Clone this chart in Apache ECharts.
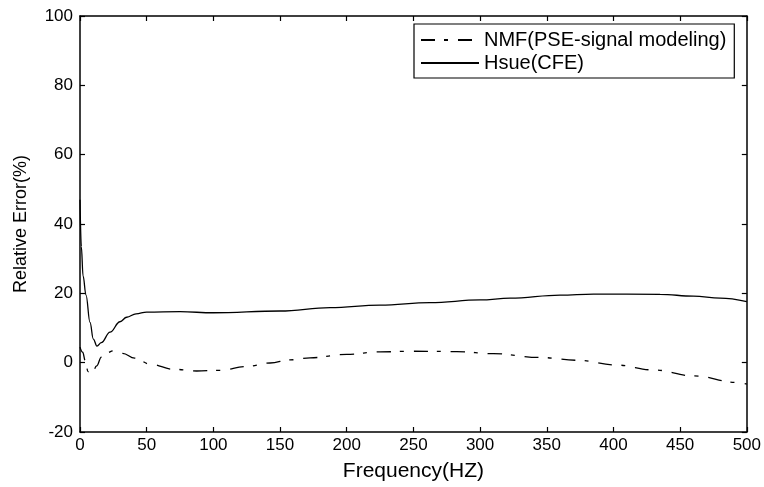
<!DOCTYPE html>
<html>
<head>
<meta charset="utf-8">
<script src="https://cdn.jsdelivr.net/npm/echarts@6/dist/echarts.min.js"></script>
<style>html,body{margin:0;padding:0;background:#fff;}#c{width:764px;height:487px;}</style>
</head>
<body>
<div id="c"></div>
<script>
var hsueFreq = [0, 1, 2.3, 4.5, 7.5, 10, 12.7, 16, 22.5, 30, 35, 42, 50, 75, 100, 150, 187.5, 225, 262.5, 300, 322.5, 360, 385, 435, 460, 480, 500];
var hsueErr  = [47, 33.5, 25, 19.5, 11.6, 6.8, 4.8, 5.8, 8.8, 11.8, 13.1, 14.1, 14.6, 14.7, 14.4, 14.9, 15.9, 16.6, 17.3, 18.1, 18.6, 19.5, 19.8, 19.7, 19.2, 18.6, 17.6];
var nmfFreq = [0, 2, 4, 6, 9, 12.5, 16, 20, 25, 32, 41, 52.5, 70, 87.5, 105, 125, 142.5, 157.5, 172.5, 200, 225, 250, 282.5, 310, 345, 372.5, 402.5, 430, 460, 492.5, 500];
var nmfErr  = [4.5, 3, 0.5, -2.6, -3.3, -0.9, 1.6, 2.8, 3.4, 2.7, 1.3, -0.4, -1.9, -2.4, -2.2, -1.1, -0.1, 0.8, 1.4, 2.4, 3.1, 3.3, 3.2, 2.6, 1.5, 0.7, -0.7, -2.1, -3.8, -5.7, -6.2];
var seriesNames = ['NMF(PSE-signal modeling)', 'Hsue(CFE)'];
var xName = 'Frequency(HZ)';
var yName = 'Relative Error(%)';

function pairs(xs, ys) { return xs.map(function (x, i) { return [x, ys[i]]; }); }

var FONT = 'Liberation Sans, Arial, Helvetica, sans-serif';
var axisLine = { show: true, onZero: false, lineStyle: { color: '#000', width: 1.5 } };
var tick = { show: true, inside: true, length: 5, lineStyle: { color: '#000', width: 1.2 } };

var chart = echarts.init(document.getElementById('c'), null, { renderer: 'canvas' });
chart.setOption({
  animation: false,
  backgroundColor: '#fff',
  grid: { left: 80, right: 17, top: 16, bottom: 54, containLabel: false },
  legend: {
    orient: 'vertical',
    left: 414, top: 24,
    data: seriesNames,
    itemWidth: 58, itemHeight: 19, itemGap: 3,
    padding: [6, 8, 5, 6],
    borderColor: '#000', borderWidth: 1.2, borderRadius: 0,
    backgroundColor: '#fff',
    itemStyle: { color: 'rgba(0,0,0,0)', borderWidth: 0, opacity: 0 },
    textStyle: { fontFamily: FONT, fontSize: 20, color: '#000', padding: [0, 0, 0, 0] },
    inactiveColor: '#000'
  },
  xAxis: [{
    type: 'value', min: 0, max: 500, interval: 50, position: 'bottom',
    name: xName, nameLocation: 'middle', nameGap: 29,
    nameTextStyle: { fontFamily: FONT, fontSize: 21, color: '#000' },
    axisLine: axisLine, axisTick: tick,
    axisLabel: { fontFamily: FONT, fontSize: 17, color: '#000', margin: 5 },
    splitLine: { show: false }
  }, {
    type: 'value', min: 0, max: 500, interval: 50, position: 'top',
    axisLine: axisLine, axisTick: tick, axisLabel: { show: false }, splitLine: { show: false }
  }],
  yAxis: [{
    type: 'value', min: -20, max: 100, interval: 20, position: 'left',
    name: yName, nameLocation: 'middle', nameGap: 50,
    nameTextStyle: { fontFamily: FONT, fontSize: 18, color: '#000' },
    axisLine: axisLine, axisTick: tick,
    axisLabel: { fontFamily: FONT, fontSize: 17, color: '#000', margin: 7 },
    splitLine: { show: false }
  }, {
    type: 'value', min: -20, max: 100, interval: 20, position: 'right',
    axisLine: axisLine, axisTick: tick, axisLabel: { show: false }, splitLine: { show: false }
  }],
  series: [{
    name: seriesNames[0], type: 'line', symbol: 'none', smooth: 0.4, smoothMonotone: 'x',
    data: pairs(nmfFreq, nmfErr),
    itemStyle: { color: '#000' },
    lineStyle: { color: '#000', width: 1.3, type: [14, 9, 4, 10] }
  }, {
    name: seriesNames[1], type: 'line', symbol: 'none', smooth: 0.4, smoothMonotone: 'x',
    data: pairs(hsueFreq, hsueErr),
    itemStyle: { color: '#000' },
    lineStyle: { color: '#000', width: 1.3, type: 'solid' }
  }]
});
</script>
</body>
</html>
